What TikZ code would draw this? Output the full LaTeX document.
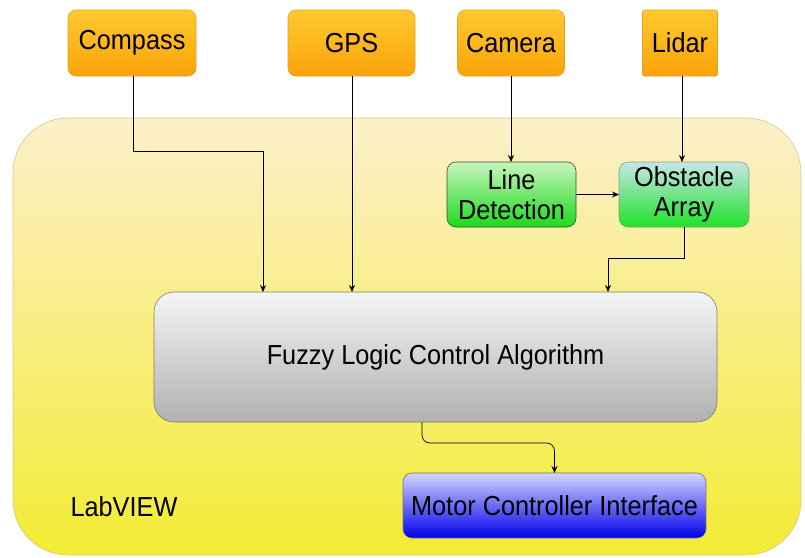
\documentclass[tikz,border=0pt]{standalone}
\usepackage{fontspec}
\setmainfont[FakeStretch=0.92]{Liberation Sans}
\usetikzlibrary{arrows.meta,calc}

\definecolor{orTop}{RGB}{255,201,48}
\definecolor{orBot}{RGB}{250,164,8}
\definecolor{orEdge}{RGB}{226,160,40}
\definecolor{lvTop}{RGB}{252,240,202}
\definecolor{lvBot}{RGB}{243,236,52}
\definecolor{lvEdge}{RGB}{214,200,140}
\definecolor{ldTop}{RGB}{200,245,190}
\definecolor{ldBot}{RGB}{28,218,28}
\definecolor{ldEdge}{RGB}{50,80,50}
\definecolor{obTop}{RGB}{198,230,232}
\definecolor{obBot}{RGB}{30,226,40}
\definecolor{obEdge}{RGB}{130,160,130}
\definecolor{fzTop}{RGB}{245,245,245}
\definecolor{fzBot}{RGB}{176,176,176}
\definecolor{fzEdge}{RGB}{130,125,100}
\definecolor{mcTop}{RGB}{212,214,255}
\definecolor{mcBot}{RGB}{0,0,236}
\definecolor{mcEdge}{RGB}{110,110,150}

\tikzset{
  txt/.style={font=\fontsize{27.5}{30}\selectfont, text=black, align=center},
  blockbox/.style={txt, inner sep=0pt, outer sep=0pt, line width=0.6pt},
  sensor/.style={blockbox, draw=orEdge, top color=orTop, bottom color=orBot,
                 rounded corners=8pt, minimum height=66pt},
  arr/.style={draw=black, line width=0.7pt, -{Stealth[length=7pt,width=6pt]}}
}

\begin{document}
\begin{tikzpicture}[x=1pt,y=-1pt]
\useasboundingbox (0,0) rectangle (805,557);
\fill[white] (0,0) rectangle (805,557);

% LabVIEW container
\draw[draw=lvEdge, line width=0.6pt, top color=lvTop, bottom color=lvBot,
      rounded corners=55pt] (13,118) rectangle (801,555);
\node[txt, anchor=west] (labview) at (67,507) {LabVIEW};

% sensors
\node[sensor, minimum width=128pt] (compass) at (132,43) {Compass};
\node[sensor, minimum width=127pt] (gps) at (351.5,43) {GPS};
\node[sensor, minimum width=107pt] (camera) at (511,43) {Camera};
\node[sensor, minimum width=75pt, rounded corners=2pt] (lidar) at (680,43) {Lidar};

% processing blocks
\node[blockbox, draw=ldEdge, top color=ldTop, bottom color=ldBot, rounded corners=9pt,
      minimum width=129pt, minimum height=65pt] (line) at (511.5,194.5) {Line\\Detection};
\node[blockbox, draw=obEdge, top color=obTop, bottom color=obBot, rounded corners=9pt,
      minimum width=130pt, minimum height=65pt] (obst) at (684,194.5) {Obstacle\\Array};
\node[blockbox, draw=fzEdge, top color=fzTop, bottom color=fzBot, rounded corners=20pt,
      minimum width=563pt, minimum height=130pt] (fuzzy) at (435.5,357) {Fuzzy Logic Control Algorithm};
\node[blockbox, draw=mcEdge, top color=mcTop, bottom color=mcBot, rounded corners=9pt,
      minimum width=303pt, minimum height=65pt] (motor) at (554.5,505.5) {Motor Controller Interface};

% connectors
\draw[arr] ([xshift=1pt]compass.south) -- ([xshift=1pt]compass.south |- 0,151)
      -| ([xshift=-172.5pt]fuzzy.north);
\draw[arr] ([xshift=0.5pt]gps.south) -- ([xshift=0.5pt]gps.south |- fuzzy.north);
\draw[arr] (camera.south) -- (camera.south |- line.north);
\draw[arr] ([xshift=2pt]lidar.south) -- ([xshift=2pt]lidar.south |- obst.north);
\draw[arr] (line.east) -- (obst.west);
\draw[arr] (obst.south) -- ++(0,31) -| ([xshift=172.5pt]fuzzy.north);
\draw[arr, rounded corners=8pt] ([xshift=-13.5pt]fuzzy.south)
      |- ($(motor.north)+(0,-30)$) -- (motor.north);
\end{tikzpicture}
\end{document}
